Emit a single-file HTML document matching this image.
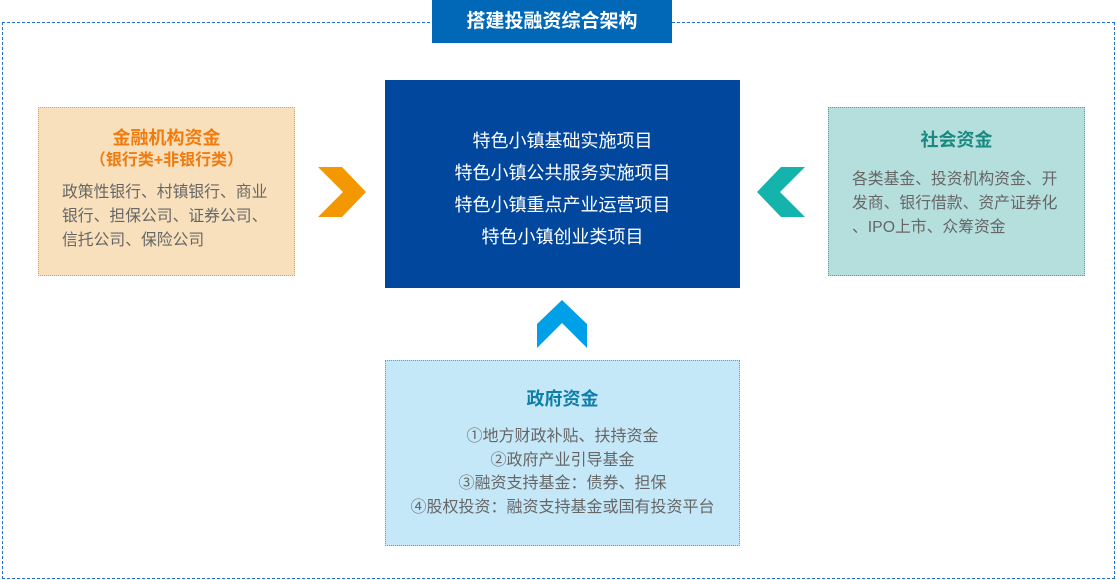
<!DOCTYPE html>
<html><head><meta charset="utf-8"><style>
body{margin:0;width:1117px;height:580px;background:#fff;position:relative;overflow:hidden;font-family:"Liberation Sans","Noto Sans CJK SC",sans-serif}
div{position:absolute;box-sizing:border-box}
.t{left:0;right:0;text-align:center;white-space:nowrap}
</style></head><body>
<div style="left:2px;top:22px;width:1113px;height:557px;border:1px dashed #1f6fbf"></div>
<div style="left:432px;top:0;width:240px;height:43px;background:#0068b7;color:#fff;font-weight:bold;font-size:19px;line-height:43px;text-align:center">搭建投融资综合架构</div>

<div style="left:38px;top:107px;width:257px;height:169px;background:#f8e0bc;border:1px dotted #f0a030">
 <div class="t" style="top:19px;color:#f07c10;font-weight:bold;font-size:18px;line-height:22px">金融机构资金</div>
 <div class="t" style="top:42px;color:#f07c10;font-weight:bold;font-size:16px;line-height:22px">（银行类+非银行类）</div>
 <div style="left:23px;top:73px;width:230px;white-space:nowrap;color:#666;font-size:15.8px;line-height:24px">政策性银行、村镇银行、商业<br>银行、担保公司、证券公司、<br>信托公司、保险公司</div>
</div>

<div style="left:385px;top:80px;width:355px;height:208px;background:#00479d;color:#fff;font-size:18px;line-height:32px">
 <div class="t" style="top:45px">特色小镇基础实施项目<br>特色小镇公共服务实施项目<br>特色小镇重点产业运营项目<br>特色小镇创业类项目</div>
</div>

<div style="left:828px;top:107px;width:257px;height:169px;background:#b5dfdd;border:1px dotted #30b0a8">
 <div class="t" style="top:21px;color:#1a8a80;font-weight:bold;font-size:18px;line-height:22px">社会资金</div>
 <div style="left:23px;top:60px;width:230px;white-space:nowrap;color:#666;font-size:15.8px;line-height:24px">各类基金、投资机构资金、开<br>发商、银行借款、资产证券化<br>、IPO上市、众筹资金</div>
</div>

<div style="left:385px;top:360px;width:355px;height:186px;background:#c5e8f9;border:1px dotted #3aa8e0">
 <div class="t" style="top:27px;color:#0e7fa8;font-weight:bold;font-size:18px;line-height:22px">政府资金</div>
 <div class="t" style="top:64px;color:#666;font-size:16px;line-height:23.5px">①地方财政补贴、扶持资金<br>②政府产业引导基金<br>③融资支持基金：债券、担保<br>④股权投资：融资支持基金或国有投资平台</div>
</div>

<svg width="1117" height="580" style="position:absolute;left:0;top:0">
<polygon points="318,167 342,167 366,192 342,217 318,217 343,192" fill="#f39800"/>
<polygon points="805,167 781,167 757,192 781,217 805,217 780,192" fill="#14b4ac"/>
<polygon points="562,300 587,324 587,348 562,323 537,348 537,324" fill="#00a0e9"/>
</svg>
</body></html>
